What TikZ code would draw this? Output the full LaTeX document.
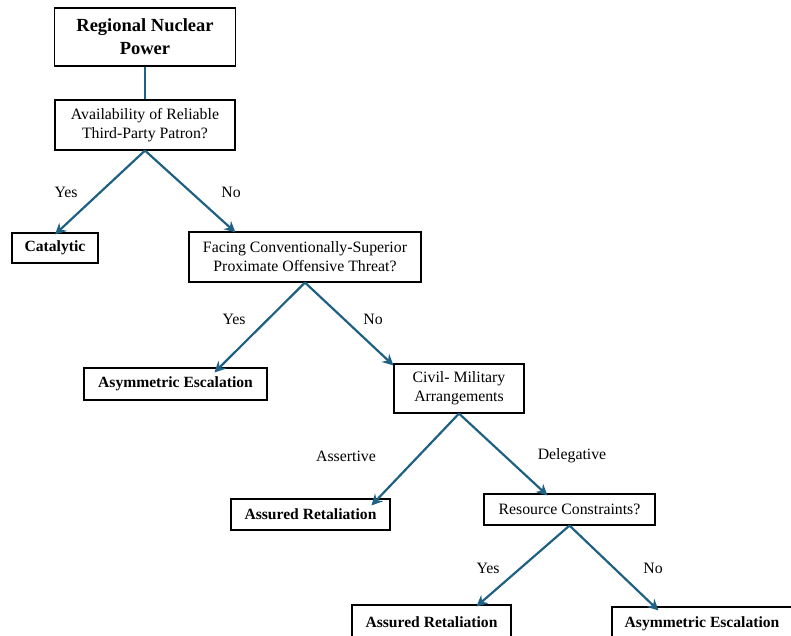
\documentclass[tikz,border=0pt]{standalone}
\usepackage{fontspec}
\setmainfont{Liberation Serif}
\usetikzlibrary{arrows.meta,positioning,calc}
\definecolor{linkblue}{RGB}{31,97,130}

\begin{document}
\begin{tikzpicture}[
    x=1pt, y=-1pt,
    font=\fontsize{15.8}{19}\selectfont,
    root/.style={draw=black, line width=1.3pt, inner sep=0pt, align=center, font=\fontsize{18.5}{23}\selectfont\bfseries},
    question/.style={draw=black, line width=1.1pt, inner sep=0pt, align=center},
    outcome/.style={draw=black, line width=1.1pt, inner sep=0pt, align=center, font=\fontsize{15.6}{19}\selectfont\bfseries},
    choice/.style={inner sep=0pt},
    stem/.style={draw=linkblue, line width=2.2pt},
    arrow/.style={-{Stealth[length=11pt, width=11pt]}, draw=linkblue, line width=2.2pt}
]
    \useasboundingbox (0,0) rectangle (791,636);

    % Nodes
    \node[root, minimum width=181, minimum height=58] (power) at (145,37) {Regional Nuclear\\Power};
    \node[question, minimum width=180, minimum height=50] (patron) at (145,125) {Availability of Reliable\\Third-Party Patron?};
    \node[outcome, minimum width=86, minimum height=30] (catalytic) at (55,248) {Catalytic};
    \node[question, minimum width=232, minimum height=50] (threat) at (305,257) {Facing Conventionally-Superior\\Proximate Offensive Threat?};
    \node[outcome, minimum width=183, minimum height=32] (asym1) at (175.5,384) {Asymmetric Escalation};
    \node[question, minimum width=130, minimum height=49] (civmil) at (459,388.5) {Civil- Military\\Arrangements};
    \node[outcome, minimum width=159, minimum height=31] (assured1) at (310.5,514.5) {Assured Retaliation};
    \node[question, minimum width=171, minimum height=31] (resource) at (569.5,509.5) {Resource Constraints?};
    \node[outcome, minimum width=159, minimum height=34] (assured2) at (431.5,622) {Assured Retaliation};
    \node[outcome, minimum width=180, minimum height=34] (asym2) at (702,624) {Asymmetric Escalation};

    % Labels
    \node[choice] (yes1) at (66,192) {Yes};
    \node[choice] (no1) at (231,192) {No};
    \node[choice] (yes2) at (234,319) {Yes};
    \node[choice] (no2) at (373,319) {No};
    \node[choice] (assertive) at (346,456) {Assertive};
    \node[choice] (delegative) at (572,456) {Delegative};
    \node[choice] (yes3) at (488,568) {Yes};
    \node[choice] (no3) at (653,568) {No};

    % Links
    \draw[stem] (power.south) -- (patron.north);
    \draw[arrow] (patron.south) -- ([yshift=-2]catalytic.north);
    \draw[arrow] (patron.south) -- ([xshift=47, yshift=-1]threat.north west);
    \draw[arrow] (threat.south) -- ([xshift=131, yshift=-5]asym1.north west);
    \draw[arrow] (threat.south) -- ([yshift=-2]civmil.north west);
    \draw[arrow] (civmil.south) -- ([xshift=141, yshift=-7]assured1.north west);
    \draw[arrow] (civmil.south) -- ([xshift=64, yshift=-2]resource.north west);
    \draw[arrow] (resource.south) -- ([xshift=125, yshift=-2]assured2.north west);
    \draw[arrow] (resource.south) -- ([xshift=47, yshift=-4]asym2.north west);
\end{tikzpicture}
\end{document}
